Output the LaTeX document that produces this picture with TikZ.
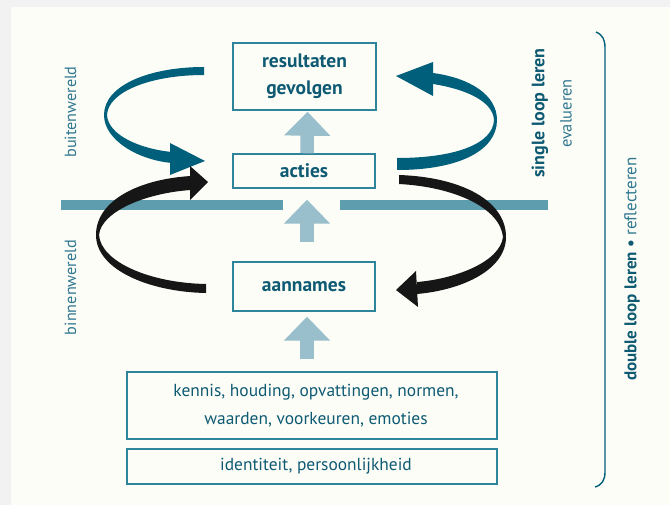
\documentclass[tikz,border=0pt]{standalone}
\usepackage{fontspec}
\setmainfont{PT Sans}
\usetikzlibrary{arrows.meta,calc}
\definecolor{panel}{HTML}{FDFDF7}
\definecolor{outer}{HTML}{F2F2F2}
\definecolor{dteal}{HTML}{005F7A}
\definecolor{boxcol}{HTML}{2E849B}
\definecolor{barcol}{HTML}{5D9DAE}
\definecolor{lightar}{HTML}{98BFCB}
\definecolor{blk}{HTML}{161616}
\definecolor{txtd}{HTML}{0E5A73}
\definecolor{txtl}{HTML}{2F7890}
\tikzset{
  box/.style={draw=boxcol, line width=1.4pt, fill=panel, inner sep=0pt, align=center, text=txtd},
  boldlbl/.style={font=\fontsize{19.5}{27}\selectfont\bfseries},
  reglbl/.style={font=\fontsize{17.4}{28}\selectfont},
  uparrow/.style={draw=lightar, line width=13.5pt, -{Triangle[width=45pt,length=24pt]}},
  sidelbl/.style={rotate=90, text=txtl, font=\fontsize{16.2}{18}\selectfont, inner sep=0pt},
}
\begin{document}
\begin{tikzpicture}[x=1pt,y=-1pt]
\useasboundingbox (0,0) rectangle (670,505);
\fill[outer] (0,0) rectangle (670,505);
\fill[panel] (11,7) rectangle (670,505);

% boxes
\node[box, boldlbl, minimum width=143pt, minimum height=67pt] (res) at (304.5,76.5) {resultaten\\gevolgen};
\node[box, boldlbl, minimum width=142pt, minimum height=34pt] (act) at (304,171) {acties};
\node[box, boldlbl, minimum width=142pt, minimum height=49pt] (aan) at (304,286.5) {aannames};
\node[box, reglbl, minimum width=370pt, minimum height=67pt] (ken) at (312,405.5) {\hspace*{8pt}kennis, houding, opvattingen, normen,\\\hspace*{8pt}waarden, voorkeuren, emoties};
\node[box, reglbl, minimum width=370pt, minimum height=35pt] (ide) at (312,466.5) {\hspace*{8pt}identiteit, persoonlijkheid};

% divider bar
\fill[barcol] (61,200) rectangle (283,210);
\fill[barcol] (340,200) rectangle (548,210);

% light arrows
\draw[uparrow] ([xshift=3pt]act.north) -- ([xshift=3pt,yshift=-1pt]res.south);
\draw[uparrow] ([xshift=3pt,yshift=19pt]aan.north) -- ([xshift=3pt,yshift=-11pt]act.south);
\draw[uparrow] ([xshift=-5pt,yshift=12pt]ken.north) -- ([xshift=3pt,yshift=-5pt]aan.south);

% teal left loop
\fill[dteal] (204,67) .. controls (150,67) and (104,85) .. (104,115)
  .. controls (104,140) and (138,160) .. (172,163) -- (172,152)
  .. controls (140,149) and (108,135) .. (107,115)
  .. controls (108,92) and (150,75) .. (204,75) -- cycle;
\fill[dteal] (170,143) -- (205,161) -- (170,175) -- cycle;
% teal right loop
\fill[dteal] (397,170) .. controls (460,170) and (497,150) .. (497,120)
  .. controls (497,95) and (470,78) .. (433,73) -- (433,84)
  .. controls (465,89) and (493,101) .. (494,120)
  .. controls (493,144) and (455,158) .. (397,158) -- cycle;
\fill[dteal] (433,62) -- (396,76) -- (433,96) -- cycle;
% black left loop
\fill[blk] (206,293) .. controls (150,292) and (96,270) .. (96,235)
  .. controls (96,200) and (140,179) .. (191,176) -- (191,190)
  .. controls (145,193) and (101,212) .. (99,235)
  .. controls (101,262) and (150,283) .. (206,284) -- cycle;
\fill[blk] (190,166) -- (208,182) -- (190,200) -- cycle;
% black right loop
\fill[blk] (399,175) .. controls (460,177) and (506,200) .. (506,237)
  .. controls (506,270) and (462,290) .. (417,294) -- (417,282)
  .. controls (455,279) and (500,262) .. (503,237)
  .. controls (500,208) and (455,187) .. (399,184) -- cycle;
\fill[blk] (416,271) -- (396,290) -- (418,307) -- cycle;

% side labels
\node[sidelbl] (buit) at (70.5,112) {buitenwereld};
\node[sidelbl] (binn) at (70.5,287.5) {binnenwereld};
\node[rotate=90, inner sep=0pt, text=txtd, font=\fontsize{18}{20}\selectfont\bfseries] (sll) at (540,113) {single loop leren};
\node[rotate=90, inner sep=0pt, text=txtl, font=\fontsize{16.4}{18}\selectfont] (eva) at (566,113.5) {evalueren};
\node[rotate=90, inner sep=0pt, font=\fontsize{17}{19}\selectfont] (dll) at (632,269) {\textcolor{txtd}{\bfseries double loop leren •} \textcolor{txtl}{reflecteren}};

% bracket
\draw[dteal, line width=1.4pt] (596,32) .. controls (603,35) and (605,40) .. (605,48) -- (605,472) .. controls (605,480) and (602,485) .. (595,487);
\end{tikzpicture}
\end{document}
